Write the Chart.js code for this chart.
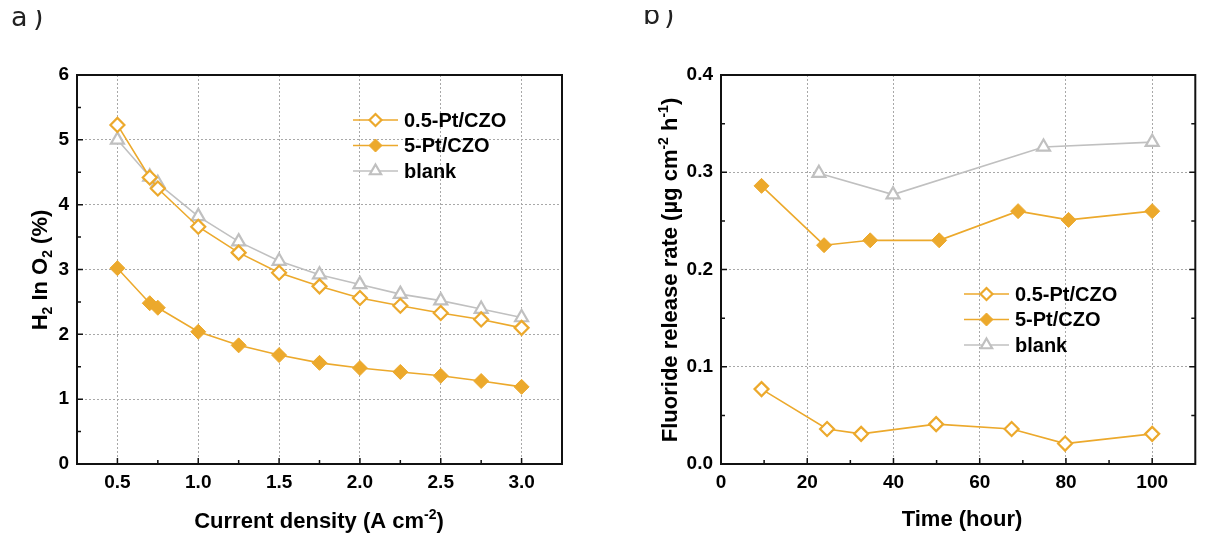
<!DOCTYPE html>
<html>
<head>
<meta charset="utf-8">
<script src="https://cdn.jsdelivr.net/npm/chart.js@4.4.0/dist/chart.umd.min.js"></script>
<style>
  body { margin: 0; background: #fff; }
  #wrap { position: relative; width: 1205px; height: 533px; overflow: hidden; }
  #left-box { position: absolute; left: 0; top: 0; width: 600px; height: 533px; }
  #right-box { position: absolute; left: 600px; top: 0; width: 605px; height: 533px; }
</style>
</head>
<body>
<div id="wrap">
  <div id="left-box"><canvas id="h2Chart" width="600" height="533"></canvas></div>
  <div id="right-box"><canvas id="fluorideChart" width="605" height="533"></canvas></div>
</div>
<script>
// H2 IN O2 VS CURRENT DENSITY
const currentDensity = [0.5, 0.7, 0.75, 1.0, 1.25, 1.5, 1.75, 2.0, 2.25, 2.5, 2.75, 3.0];
const h2Pt05 = [5.23, 4.42, 4.25, 3.66, 3.26, 2.95, 2.74, 2.56, 2.44, 2.33, 2.23, 2.10];
const h2Pt5 = [3.02, 2.48, 2.41, 2.04, 1.83, 1.68, 1.56, 1.48, 1.42, 1.36, 1.28, 1.19];
const h2Blank = [5.00, 4.43, 4.33, 3.82, 3.43, 3.13, 2.92, 2.77, 2.62, 2.52, 2.39, 2.26];
const densityTicks = [0.5, 1.0, 1.5, 2.0, 2.5, 3.0];
const h2Ticks = [0, 1, 2, 3, 4, 5, 6];

// FLUORIDE RELEASE RATE VS TIME
const timePt05 = [9.4, 24.6, 32.5, 49.9, 67.4, 79.8, 100];
const fluoridePt05 = [0.077, 0.036, 0.031, 0.041, 0.036, 0.021, 0.031];
const timePt5 = [9.4, 23.9, 34.6, 50.6, 68.9, 80.6, 100];
const fluoridePt5 = [0.286, 0.225, 0.230, 0.230, 0.260, 0.251, 0.260];
const timeBlank = [22.7, 39.9, 74.8, 100];
const fluorideBlank = [0.299, 0.277, 0.326, 0.331];
const timeTicks = [0, 20, 40, 60, 80, 100];
const fluorideTicks = [0.0, 0.1, 0.2, 0.3, 0.4];

const seriesNames = ['0.5-Pt/CZO', '5-Pt/CZO', 'blank'];

const FONT = '"Liberation Sans", Arial, sans-serif';
const orange = '#eca92c';
const grey = '#c0c0c0';

function toPoints(xs, ys) {
  return xs.map((x, i) => ({ x: x, y: ys[i] }));
}

function makeDatasets(sets) {
  return [
    { label: seriesNames[0], data: toPoints(sets[0][0], sets[0][1]), borderColor: orange, borderWidth: 1.6,
      pointStyle: 'rectRot', pointRadius: 7, pointBorderWidth: 2.2, pointBorderColor: orange, pointBackgroundColor: '#fff' },
    { label: seriesNames[1], data: toPoints(sets[1][0], sets[1][1]), borderColor: orange, borderWidth: 1.6,
      pointStyle: 'rectRot', pointRadius: 7.5, pointBorderWidth: 1, pointBorderColor: orange, pointBackgroundColor: orange },
    { label: seriesNames[2], data: toPoints(sets[2][0], sets[2][1]), borderColor: grey, borderWidth: 1.6,
      pointStyle: 'triangle', pointRadius: 7.5, pointBorderWidth: 2.2, pointBorderColor: grey, pointBackgroundColor: '#fff' }
  ];
}

// text with sub / superscript pieces, centred on (cx, cy)
function drawRichText(ctx, parts, cx, cy, size, rotate) {
  ctx.save();
  ctx.translate(cx, cy);
  if (rotate) ctx.rotate(-Math.PI / 2);
  const small = Math.round(size * 0.65);
  let total = 0;
  const widths = parts.map(p => {
    ctx.font = 'bold ' + (p[1] ? small : size) + 'px ' + FONT;
    const w = ctx.measureText(p[0]).width;
    total += w;
    return w;
  });
  let x = -total / 2;
  const base = size * 0.36;
  ctx.fillStyle = '#000';
  ctx.textBaseline = 'alphabetic';
  ctx.textAlign = 'left';
  parts.forEach((p, i) => {
    ctx.font = 'bold ' + (p[1] ? small : size) + 'px ' + FONT;
    let y = base;
    if (p[1] === 'sub') y = base + size * 0.25;
    if (p[1] === 'sup') y = base - size * 0.42;
    ctx.fillText(p[0], x, y);
    x += widths[i];
  });
  ctx.restore();
}

function tickRun(from, to, step, fn) {
  for (let v = from; v <= to + step * 1e-6; v += step) fn(v);
}

// frame, inward ticks, legend, axis titles and panel letter
const panelDeco = {
  id: 'panelDeco',
  afterDraw(chart, args, o) {
    const ctx = chart.ctx;
    const { left, right, top, bottom } = chart.chartArea;
    const xs = chart.scales.x, ys = chart.scales.y;
    ctx.save();
    ctx.strokeStyle = '#111';
    ctx.lineWidth = 1.5;
    ctx.beginPath();
    const xTick = (v, len) => {
      const px = xs.getPixelForValue(v);
      ctx.moveTo(px, bottom); ctx.lineTo(px, bottom - len);
    };
    const yTick = (v, len) => {
      const py = ys.getPixelForValue(v);
      ctx.moveTo(left, py); ctx.lineTo(left + len, py);
      if (o.rightTicks) { ctx.moveTo(right, py); ctx.lineTo(right - len, py); }
    };
    tickRun(o.x.from, o.x.to, o.x.minor, v => xTick(v, 4));
    tickRun(o.x.from, o.x.to, o.x.major, v => xTick(v, 6));
    tickRun(ys.min, ys.max, o.y.minor, v => yTick(v, 4));
    tickRun(ys.min, ys.max, o.y.major, v => yTick(v, 6));
    ctx.stroke();
    ctx.lineWidth = 2;
    ctx.strokeRect(left, top, right - left, bottom - top);

    // legend
    chart.data.datasets.forEach((ds, i) => {
      const y = o.legend.y + i * 25.5;
      ctx.strokeStyle = ds.borderColor;
      ctx.lineWidth = ds.borderWidth;
      ctx.beginPath();
      ctx.moveTo(o.legend.x, y); ctx.lineTo(o.legend.x + 45, y);
      ctx.stroke();
      ctx.fillStyle = ds.pointBackgroundColor;
      ctx.strokeStyle = ds.pointBorderColor;
      ctx.lineWidth = ds.pointBorderWidth;
      Chart.helpers.drawPoint(ctx, { pointStyle: ds.pointStyle, radius: ds.pointRadius - 1,
        borderWidth: ds.pointBorderWidth, rotation: 0 }, o.legend.x + 22.5, y);
      ctx.fillStyle = '#000';
      ctx.font = 'bold 20px ' + FONT;
      ctx.textBaseline = 'middle';
      ctx.textAlign = 'left';
      ctx.fillText(ds.label, o.legend.x + 51, y + 1);
    });

    drawRichText(ctx, o.xTitle, o.xTitlePos[0], o.xTitlePos[1], 22, false);
    drawRichText(ctx, o.yTitle, o.yTitlePos[0], o.yTitlePos[1], 22, true);

    // panel letter, top edge cut off
    ctx.beginPath();
    ctx.rect(0, 10, chart.width, 40);
    ctx.clip();
    ctx.fillStyle = '#222';
    ctx.font = '27px "DejaVu Sans", sans-serif';
    ctx.textBaseline = 'alphabetic';
    o.letter.forEach(c => ctx.fillText(c[0], c[1], c[2]));
    ctx.restore();
  }
};

function axis(min, max, tickValues, fitKey, fitSize, pad, fmt) {
  return {
    type: 'linear', min: min, max: max,
    afterBuildTicks: s => { s.ticks = tickValues.map(v => ({ value: v })); },
    afterFit: s => { s[fitKey] = fitSize; },
    grid: { color: '#a8a8a8', lineWidth: 1, drawTicks: false },
    border: { display: false, dash: [2, 2] },
    ticks: { color: '#000', padding: pad, font: { family: FONT, size: 19, weight: 'bold' }, callback: fmt }
  };
}

function makeChart(id, datasets, scales, padRight, deco) {
  return new Chart(document.getElementById(id).getContext('2d'), {
    type: 'line',
    data: { datasets: datasets },
    options: {
      responsive: false,
      animation: false,
      events: [],
      layout: { padding: { left: 0, top: 75, right: padRight, bottom: 0 } },
      scales: scales,
      plugins: { legend: { display: false }, tooltip: { enabled: false }, panelDeco: deco }
    },
    plugins: [panelDeco]
  });
}

// DRAW H2 IN O2 PANEL
makeChart('h2Chart',
  makeDatasets([[currentDensity, h2Pt05], [currentDensity, h2Pt5], [currentDensity, h2Blank]]),
  {
    x: axis(0.25, 3.25, densityTicks, 'height', 69, 7, v => v.toFixed(1)),
    y: axis(0, 6, h2Ticks, 'width', 77, 8, v => String(v))
  },
  38,
  {
    x: { from: 0.5, to: 3.0, major: 0.5, minor: 0.25 }, y: { major: 1, minor: 0.5 }, rightTicks: false,
    legend: { x: 353, y: 120 },
    xTitle: [['Current density (A cm'], ['-2', 'sup'], [')']], xTitlePos: [319, 520],
    yTitle: [['H'], ['2', 'sub'], [' In O'], ['2', 'sub'], [' (%)']], yTitlePos: [39, 270],
    letter: [['a', 11, 25.5], [')', 33, 25.5]]
  });

// DRAW FLUORIDE RELEASE PANEL
makeChart('fluorideChart',
  makeDatasets([[timePt05, fluoridePt05], [timePt5, fluoridePt5], [timeBlank, fluorideBlank]]),
  {
    x: axis(0, 110, timeTicks, 'height', 69, 7, v => String(v)),
    y: axis(0, 0.4, fluorideTicks, 'width', 121, 8, v => v.toFixed(1))
  },
  3,
  {
    x: { from: 0, to: 100, major: 20, minor: 10 }, y: { major: 0.1, minor: 0.05 }, rightTicks: true,
    legend: { x: 364, y: 294 },
    xTitle: [['Time (hour)']], xTitlePos: [362, 518],
    yTitle: [['Fluoride release rate (\u00b5g cm'], ['-2', 'sup'], [' h'], ['-1', 'sup'], [')']],
    yTitlePos: [69, 270],
    letter: [['b', 43, 24], [')', 64, 24]]
  });
</script>
</body>
</html>
